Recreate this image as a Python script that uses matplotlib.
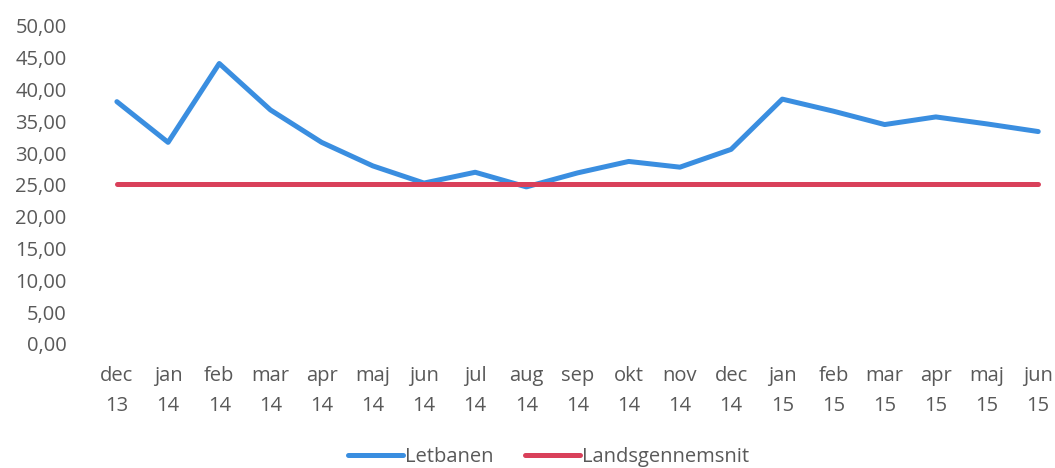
import matplotlib
matplotlib.use("Agg")
import matplotlib.pyplot as plt
from matplotlib.ticker import FuncFormatter

months = ["dec\n13", "jan\n14", "feb\n14", "mar\n14", "apr\n14", "maj\n14", "jun\n14",
          "jul\n14", "aug\n14", "sep\n14", "okt\n14", "nov\n14", "dec\n14", "jan\n15",
          "feb\n15", "mar\n15", "apr\n15", "maj\n15", "jun\n15"]
letbanen = [38.1, 31.7, 44.1, 36.8, 31.7, 28.0, 25.3, 27.0, 24.7, 26.9, 28.7,
            27.8, 30.6, 38.5, 36.6, 34.5, 35.7, 34.6, 33.4]
landsgennemsnit = [25.2] * len(months)

plt.rcParams['font.family'] = ['Open Sans', 'DejaVu Sans']
text_color = '#595959'

fig = plt.figure(figsize=(10.55, 4.68), dpi=100)
ax = fig.add_axes([100 / 1055, 0.265, 950 / 1055, 0.6795])

x = list(range(len(months)))
ax.plot(x, letbanen, color='#3a8ee0', lw=3.6, solid_capstyle='round',
        solid_joinstyle='round', label='Letbanen')
ax.plot(x, landsgennemsnit, color='#d9405a', lw=3.6, solid_capstyle='round',
        label='Landsgennemsnit')

ax.set_ylim(0, 50)
ax.set_yticks(range(0, 51, 5))
ax.yaxis.set_major_formatter(FuncFormatter(lambda v, p: f"{v:.2f}".replace('.', ',')))
ax.set_xlim(-0.33, 18.23)
ax.set_xticks(x)
ax.set_xticklabels(months, linespacing=1.62)

for s in ax.spines.values():
    s.set_visible(False)
ax.tick_params(length=0, labelsize=14.5, colors=text_color)
ax.tick_params(axis='x', pad=16)
ax.tick_params(axis='y', pad=24)

leg = fig.legend(loc='lower center', bbox_to_anchor=(0.52, -0.036), ncol=2,
                 frameon=False, fontsize=14.5, handlelength=2.7,
                 handletextpad=0.1, columnspacing=1.6)
for t in leg.get_texts():
    t.set_color(text_color)

fig.savefig('out.png', dpi=100)
